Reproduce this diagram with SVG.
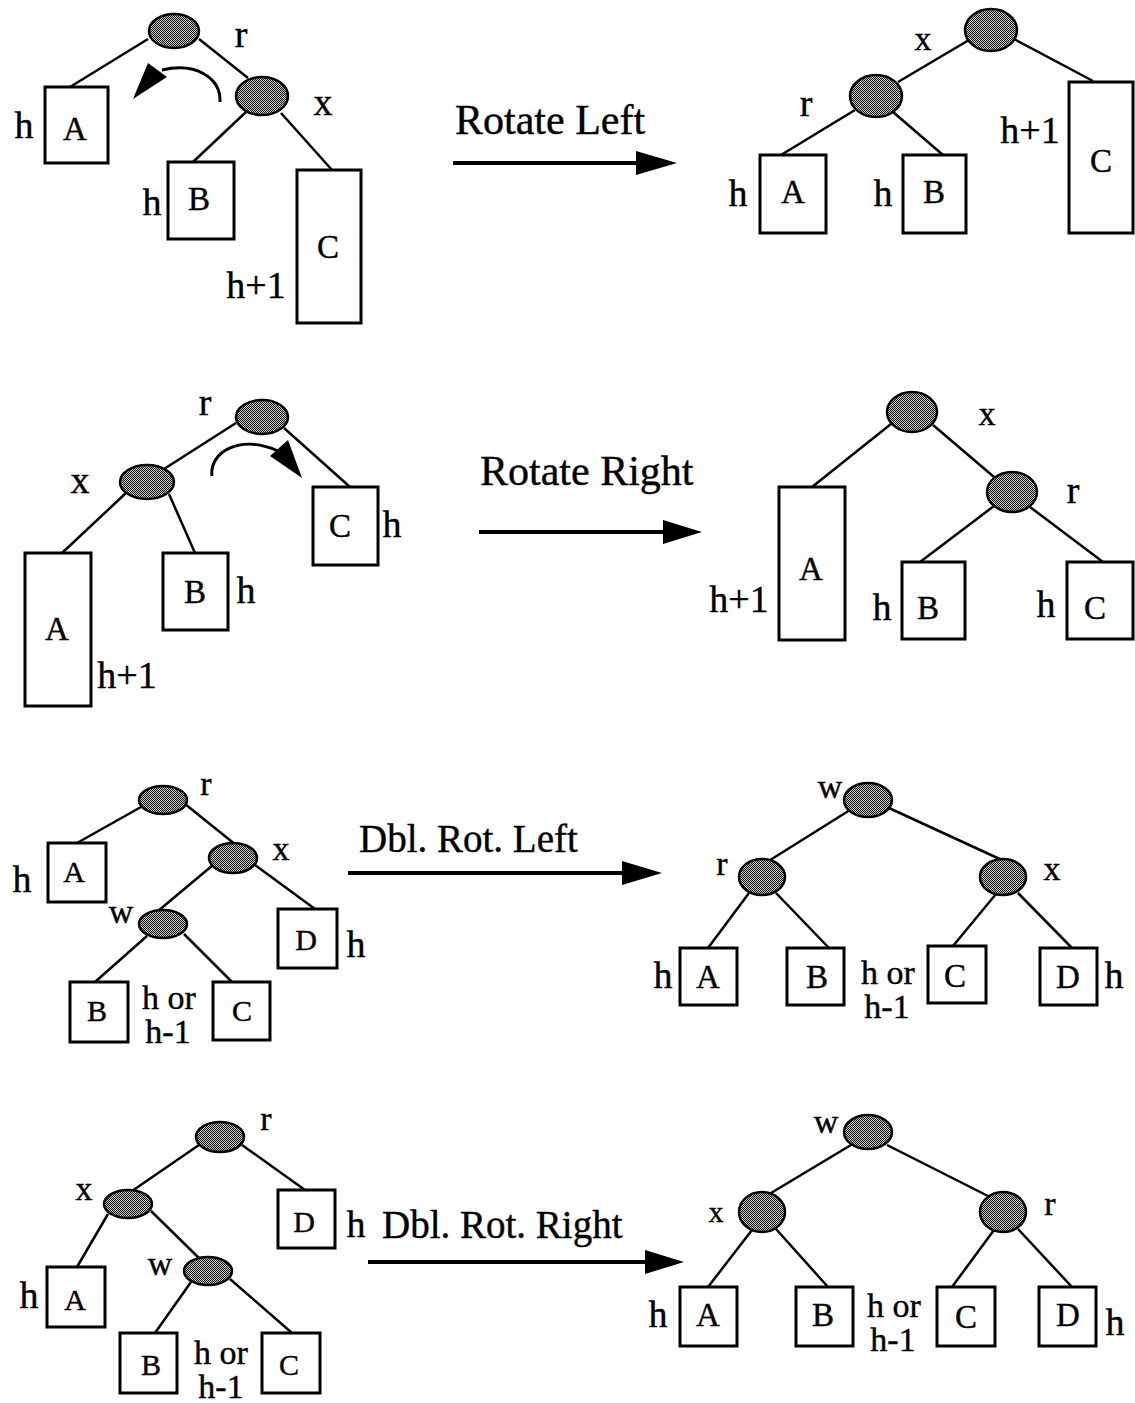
<svg xmlns="http://www.w3.org/2000/svg" width="1135" height="1403" viewBox="0 0 1135 1403">
  <defs>
    <pattern id="stipple" width="2" height="2" patternUnits="userSpaceOnUse">
      <rect width="2" height="2" fill="#c8c8c8"/>
      <rect width="1" height="1" fill="#111"/>
      <rect x="1" y="1" width="1" height="1" fill="#111"/>
    </pattern>
  </defs>
  <style>
    .node { fill: url(#stipple); stroke: #000; stroke-width: 2.5; }
    .box { fill: #fff; stroke: #000; stroke-width: 3; }
    .edge { stroke: #000; stroke-width: 2.5; fill: none; }
    .shaft { stroke: #000; stroke-width: 4; fill: none; }
    .curve { stroke: #000; stroke-width: 3; fill: none; }
    .head { fill: #000; stroke: none; }
    text { font-family: "Liberation Serif", "Times New Roman", serif; fill: #000; stroke: #000; stroke-width: 0.4; }
    .lbl { font-size: 38px; text-anchor: middle; }
    .lbl2 { font-size: 34px; text-anchor: middle; }
    .pair { font-size: 34px; text-anchor: middle; }
    .key { font-size: 33px; text-anchor: middle; }
    .key2 { font-size: 30px; text-anchor: middle; }
    .op { font-size: 42px; }
    .op2 { font-size: 39px; }
  </style>

  <rect width="1135" height="1403" fill="#fff"/>

  <!-- connectors: tree edges, rotation hints and operation arrows -->
  <g id="connectors">
    <!-- rotate left, before -->
    <line class="edge" x1="148" y1="39" x2="70" y2="87"/>
    <line class="edge" x1="199" y1="39" x2="248" y2="78"/>
    <line class="edge" x1="246" y1="112" x2="193" y2="162"/>
    <line class="edge" x1="281" y1="113" x2="332" y2="170"/>
    <path class="curve" d="M220,102 C221,78 196,62 162,70"/>
    <polygon class="head" points="133,99 148,63 167,77"/>
    <!-- rotate left, after -->
    <line class="edge" x1="969" y1="40" x2="898" y2="82"/>
    <line class="edge" x1="1014" y1="39" x2="1093" y2="81"/>
    <line class="edge" x1="855" y1="110" x2="781" y2="155"/>
    <line class="edge" x1="893" y1="112" x2="943" y2="155"/>
    <line class="shaft" x1="453" y1="163" x2="640" y2="163"/>
    <polygon class="head" points="636,151 677,163 636,175"/>

    <!-- rotate right, before -->
    <line class="edge" x1="236" y1="423" x2="164" y2="469"/>
    <line class="edge" x1="284" y1="428" x2="350" y2="487"/>
    <line class="edge" x1="126" y1="493" x2="62" y2="553"/>
    <line class="edge" x1="169" y1="494" x2="195" y2="553"/>
    <path class="curve" d="M212,476 C209,452 240,434 278,451"/>
    <polygon class="head" points="270,456 288,440 302,478"/>
    <!-- rotate right, after -->
    <line class="edge" x1="891" y1="424" x2="812" y2="487"/>
    <line class="edge" x1="933" y1="425" x2="994" y2="477"/>
    <line class="edge" x1="994" y1="506" x2="920" y2="562"/>
    <line class="edge" x1="1030" y1="507" x2="1103" y2="562"/>
    <line class="shaft" x1="479" y1="532" x2="667" y2="532"/>
    <polygon class="head" points="663,520 702,532 663,544"/>

    <!-- double rotate left, before -->
    <line class="edge" x1="141" y1="807" x2="77" y2="843"/>
    <line class="edge" x1="185" y1="804" x2="236" y2="845"/>
    <line class="edge" x1="213" y1="865" x2="158" y2="911"/>
    <line class="edge" x1="255" y1="865" x2="315" y2="909"/>
    <line class="edge" x1="147" y1="936" x2="95" y2="982"/>
    <line class="edge" x1="184" y1="934" x2="232" y2="982"/>
    <!-- double rotate left, after -->
    <line class="edge" x1="850" y1="810" x2="767" y2="862"/>
    <line class="edge" x1="889" y1="808" x2="1004" y2="861"/>
    <line class="edge" x1="749" y1="893" x2="708" y2="948"/>
    <line class="edge" x1="776" y1="893" x2="829" y2="948"/>
    <line class="edge" x1="996" y1="894" x2="953" y2="946"/>
    <line class="edge" x1="1018" y1="893" x2="1072" y2="948"/>
    <line class="shaft" x1="348" y1="873" x2="626" y2="873"/>
    <polygon class="head" points="622,861 662,873 622,885"/>

    <!-- double rotate right, before -->
    <line class="edge" x1="199" y1="1145" x2="132" y2="1191"/>
    <line class="edge" x1="242" y1="1145" x2="305" y2="1190"/>
    <line class="edge" x1="108" y1="1214" x2="77" y2="1267"/>
    <line class="edge" x1="151" y1="1211" x2="200" y2="1259"/>
    <line class="edge" x1="191" y1="1282" x2="155" y2="1333"/>
    <line class="edge" x1="230" y1="1279" x2="292" y2="1333"/>
    <!-- double rotate right, after -->
    <line class="edge" x1="851" y1="1145" x2="766" y2="1196"/>
    <line class="edge" x1="887" y1="1145" x2="990" y2="1197"/>
    <line class="edge" x1="752" y1="1230" x2="708" y2="1287"/>
    <line class="edge" x1="776" y1="1229" x2="828" y2="1287"/>
    <line class="edge" x1="994" y1="1230" x2="952" y2="1287"/>
    <line class="edge" x1="1018" y1="1229" x2="1072" y2="1287"/>
    <line class="shaft" x1="368" y1="1262" x2="649" y2="1262"/>
    <polygon class="head" points="645,1250 684,1262 645,1274"/>
  </g>

  <!-- operation labels -->
  <g id="operations">
    <text class="op" x="455" y="134">Rotate Left</text>
    <text class="op" x="480" y="485">Rotate Right</text>
    <text class="op2" x="359" y="852">Dbl. Rot. Left</text>
    <text class="op2" x="382" y="1238">Dbl. Rot. Right</text>
  </g>

  <!-- ===== Rotate Left: before ===== -->
  <g id="rl-r"><ellipse class="node" cx="174" cy="31" rx="25" ry="17"/><text class="lbl" x="241" y="47">r</text></g>
  <g id="rl-x"><ellipse class="node" cx="262" cy="96" rx="26" ry="19"/><text class="lbl" x="323" y="115">x</text></g>
  <g id="rl-A"><rect class="box" x="45" y="87" width="63" height="76"/><text class="key" x="75" y="140">A</text><text class="lbl" x="24" y="138">h</text></g>
  <g id="rl-B"><rect class="box" x="168" y="162" width="66" height="77"/><text class="key" x="199" y="210">B</text><text class="lbl" x="152" y="215">h</text></g>
  <g id="rl-C"><rect class="box" x="297" y="170" width="64" height="153"/><text class="key" x="328" y="258">C</text><text class="lbl" x="256" y="298">h+1</text></g>

  <!-- ===== Rotate Left: after ===== -->
  <g id="rl2-x"><ellipse class="node" cx="991" cy="30" rx="26" ry="21"/><text class="lbl2" x="923" y="50">x</text></g>
  <g id="rl2-r"><ellipse class="node" cx="876" cy="96" rx="26" ry="21"/><text class="lbl" x="806" y="116">r</text></g>
  <g id="rl2-A"><rect class="box" x="760" y="155" width="66" height="78"/><text class="key" x="793" y="203">A</text><text class="lbl" x="738" y="206">h</text></g>
  <g id="rl2-B"><rect class="box" x="903" y="155" width="63" height="78"/><text class="key" x="934" y="203">B</text><text class="lbl" x="883" y="206">h</text></g>
  <g id="rl2-C"><rect class="box" x="1069" y="82" width="64" height="151"/><text class="key" x="1101" y="172">C</text><text class="lbl" x="1030" y="143">h+1</text></g>

  <!-- ===== Rotate Right: before ===== -->
  <g id="rr-r"><ellipse class="node" cx="262" cy="417" rx="26" ry="17"/><text class="lbl" x="205" y="415">r</text></g>
  <g id="rr-x"><ellipse class="node" cx="147" cy="482" rx="27" ry="17"/><text class="lbl" x="80" y="493">x</text></g>
  <g id="rr-A"><rect class="box" x="25" y="553" width="66" height="153"/><text class="key" x="57" y="640">A</text><text class="lbl" x="127" y="688">h+1</text></g>
  <g id="rr-B"><rect class="box" x="163" y="553" width="65" height="77"/><text class="key" x="195" y="603">B</text><text class="lbl" x="246" y="603">h</text></g>
  <g id="rr-C"><rect class="box" x="313" y="487" width="65" height="78"/><text class="key" x="340" y="537">C</text><text class="lbl" x="392" y="537">h</text></g>

  <!-- ===== Rotate Right: after ===== -->
  <g id="rr2-x"><ellipse class="node" cx="912" cy="412" rx="25" ry="20"/><text class="lbl2" x="987" y="425">x</text></g>
  <g id="rr2-r"><ellipse class="node" cx="1012" cy="492" rx="25" ry="20"/><text class="lbl" x="1073" y="503">r</text></g>
  <g id="rr2-A"><rect class="box" x="779" y="487" width="66" height="153"/><text class="key" x="811" y="580">A</text><text class="lbl" x="739" y="612">h+1</text></g>
  <g id="rr2-B"><rect class="box" x="902" y="562" width="63" height="77"/><text class="key" x="928" y="619">B</text><text class="lbl" x="882" y="620">h</text></g>
  <g id="rr2-C"><rect class="box" x="1067" y="562" width="66" height="77"/><text class="key" x="1095" y="619">C</text><text class="lbl" x="1046" y="617">h</text></g>

  <!-- ===== Double Rotate Left: before ===== -->
  <g id="dl-r"><ellipse class="node" cx="163" cy="800" rx="24" ry="14"/><text class="lbl2" x="206" y="795">r</text></g>
  <g id="dl-x"><ellipse class="node" cx="233" cy="858" rx="24" ry="15"/><text class="lbl2" x="281" y="860">x</text></g>
  <g id="dl-w"><ellipse class="node" cx="163" cy="924" rx="24" ry="14"/><text class="lbl2" x="121" y="923">w</text></g>
  <g id="dl-A"><rect class="box" x="48" y="843" width="58" height="59"/><text class="key2" x="74" y="882">A</text><text class="lbl" x="22" y="892">h</text></g>
  <g id="dl-D"><rect class="box" x="278" y="909" width="59" height="59"/><text class="key2" x="306" y="950">D</text><text class="lbl" x="356" y="957">h</text></g>
  <g id="dl-B"><rect class="box" x="70" y="982" width="58" height="60"/><text class="key2" x="97" y="1021">B</text></g>
  <g id="dl-C"><rect class="box" x="213" y="982" width="57" height="58"/><text class="key2" x="242" y="1021">C</text></g>
  <g id="dl-BC-height"><text class="pair" x="169" y="1009">h or</text><text class="pair" x="168" y="1043">h-1</text></g>

  <!-- ===== Double Rotate Left: after ===== -->
  <g id="dl2-w"><ellipse class="node" cx="868" cy="800" rx="24" ry="17"/><text class="lbl2" x="830" y="798">w</text></g>
  <g id="dl2-r"><ellipse class="node" cx="762" cy="877" rx="23" ry="18"/><text class="lbl2" x="722" y="875">r</text></g>
  <g id="dl2-x"><ellipse class="node" cx="1003" cy="877" rx="23" ry="18"/><text class="lbl2" x="1052" y="880">x</text></g>
  <g id="dl2-A"><rect class="box" x="680" y="948" width="57" height="57"/><text class="key" x="708" y="988">A</text><text class="lbl" x="663" y="988">h</text></g>
  <g id="dl2-B"><rect class="box" x="787" y="948" width="57" height="57"/><text class="key" x="817" y="988">B</text></g>
  <g id="dl2-C"><rect class="box" x="928" y="946" width="58" height="57"/><text class="key" x="955" y="987">C</text></g>
  <g id="dl2-D"><rect class="box" x="1040" y="948" width="57" height="57"/><text class="key" x="1068" y="988">D</text><text class="lbl" x="1114" y="988">h</text></g>
  <g id="dl2-BC-height"><text class="pair" x="888" y="984">h or</text><text class="pair" x="887" y="1018">h-1</text></g>

  <!-- ===== Double Rotate Right: before ===== -->
  <g id="dr-r"><ellipse class="node" cx="220" cy="1137" rx="24" ry="15"/><text class="lbl2" x="266" y="1130">r</text></g>
  <g id="dr-x"><ellipse class="node" cx="128" cy="1204" rx="24" ry="14"/><text class="lbl2" x="84" y="1200">x</text></g>
  <g id="dr-w"><ellipse class="node" cx="208" cy="1271" rx="24" ry="14"/><text class="lbl2" x="160" y="1275">w</text></g>
  <g id="dr-D"><rect class="box" x="278" y="1190" width="57" height="58"/><text class="key2" x="304" y="1232">D</text><text class="lbl" x="356" y="1237">h</text></g>
  <g id="dr-A"><rect class="box" x="47" y="1267" width="58" height="60"/><text class="key2" x="75" y="1310">A</text><text class="lbl" x="29" y="1308">h</text></g>
  <g id="dr-B"><rect class="box" x="120" y="1333" width="57" height="60"/><text class="key2" x="151" y="1375">B</text></g>
  <g id="dr-C"><rect class="box" x="262" y="1333" width="58" height="60"/><text class="key2" x="289" y="1375">C</text></g>
  <g id="dr-BC-height"><text class="pair" x="221" y="1364">h or</text><text class="pair" x="221" y="1398">h-1</text></g>

  <!-- ===== Double Rotate Right: after ===== -->
  <g id="dr2-w"><ellipse class="node" cx="868" cy="1132" rx="24" ry="17"/><text class="lbl2" x="826" y="1133">w</text></g>
  <g id="dr2-x"><ellipse class="node" cx="762" cy="1212" rx="23" ry="20"/><text class="key2" x="716" y="1222">x</text></g>
  <g id="dr2-r"><ellipse class="node" cx="1003" cy="1212" rx="23" ry="20"/><text class="lbl2" x="1050" y="1215">r</text></g>
  <g id="dr2-A"><rect class="box" x="680" y="1287" width="57" height="59"/><text class="key" x="708" y="1326">A</text><text class="lbl" x="658" y="1327">h</text></g>
  <g id="dr2-B"><rect class="box" x="796" y="1287" width="57" height="59"/><text class="key" x="823" y="1326">B</text></g>
  <g id="dr2-C"><rect class="box" x="937" y="1287" width="58" height="59"/><text class="key" x="966" y="1328">C</text></g>
  <g id="dr2-D"><rect class="box" x="1039" y="1287" width="57" height="59"/><text class="key" x="1068" y="1326">D</text><text class="lbl" x="1115" y="1335">h</text></g>
  <g id="dr2-BC-height"><text class="pair" x="894" y="1317">h or</text><text class="pair" x="893" y="1351">h-1</text></g>
</svg>
